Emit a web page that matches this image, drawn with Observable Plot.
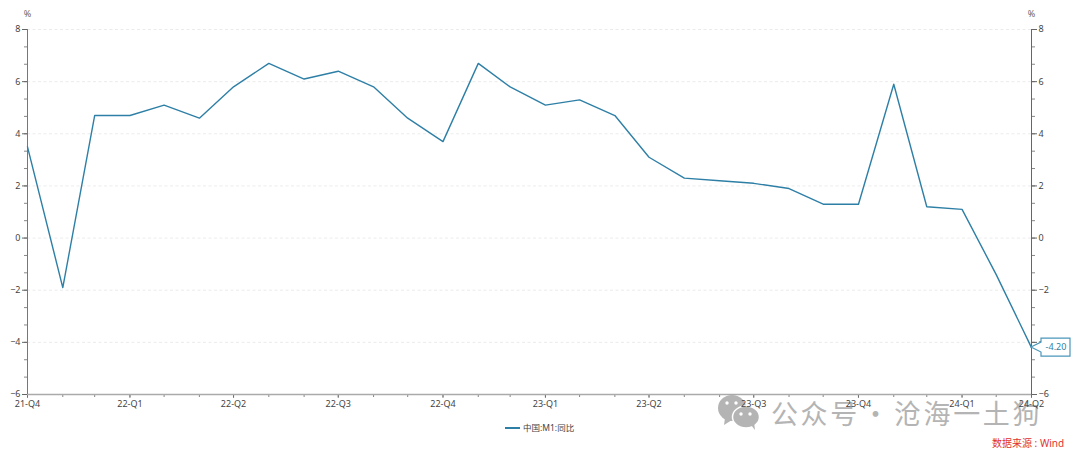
<!DOCTYPE html>
<html><head><meta charset="utf-8">
<script src="https://cdn.jsdelivr.net/npm/d3@7"></script>
<script src="https://cdn.jsdelivr.net/npm/@observablehq/plot@0.6"></script>
<style>
html,body{margin:0;padding:0;background:#fff;width:1080px;height:457px;overflow:hidden;position:relative;font-family:"Noto Sans","Noto Sans CJK SC",sans-serif}
#chart{position:relative;z-index:2}
#chart svg{display:block;background:transparent;font-family:"Noto Sans","Noto Sans CJK SC",sans-serif}
#legend{position:absolute;left:505px;top:421px;font-size:8.5px;line-height:13px;color:#444;display:flex;align-items:center;white-space:nowrap}
#legend i{display:inline-block;width:15px;height:2px;background:#2e7fa6;margin-right:3px}
#source{position:absolute;left:992px;top:436px;font-size:10px;line-height:14px;color:#e03131;white-space:nowrap}
#mark{position:absolute;left:0;top:0;z-index:1;color:#b4b4b4;font-family:"Noto Sans CJK SC",sans-serif;font-size:27px;line-height:38px;white-space:nowrap;pointer-events:none}
#mark svg{position:absolute;left:717px;top:392px;display:block}
#mark span{position:absolute;top:394px;letter-spacing:2.6px}
</style></head><body>
<div id="mark"><svg width="44" height="38" viewBox="0 0 44 38"><ellipse cx="15" cy="16" rx="14" ry="13" fill="#b4b4b4"/><path d="M8 26l-1 7 8-5z" fill="#b4b4b4"/><ellipse cx="29" cy="25" rx="13.5" ry="11" fill="#b4b4b4" stroke="#fff" stroke-width="1.5"/><path d="M34 33l4 5-1-8z" fill="#b4b4b4"/><circle cx="10" cy="11" r="1.7" fill="#fff"/><circle cx="19" cy="11" r="1.7" fill="#fff"/><circle cx="24" cy="22" r="1.7" fill="#fff"/><circle cx="33" cy="22" r="1.7" fill="#fff"/></svg><span style="left:771px">公众号</span><span style="left:862px">·</span><span style="left:894px">沧海一土狗</span></div>
<div id="chart"></div>
<div id="legend"><i></i><span>中国:M1:同比</span></div>
<div id="source">数据来源 : Wind</div>
<script>
const monthEnds = ["2021-12-31","2022-01-31","2022-02-28","2022-03-31","2022-04-30","2022-05-31","2022-06-30","2022-07-31","2022-08-31","2022-09-30","2022-10-31","2022-11-30","2022-12-31","2023-01-31","2023-02-28","2023-03-31","2023-04-30","2023-05-31","2023-06-30","2023-07-31","2023-08-31","2023-09-30","2023-10-31","2023-11-30","2023-12-31","2024-01-31","2024-02-29","2024-03-31","2024-04-30","2024-05-31"];
const m1Yoy = [3.5,-1.9,4.7,4.7,5.1,4.6,5.8,6.7,6.1,6.4,5.8,4.6,3.7,6.7,5.8,5.1,5.3,4.7,3.1,2.3,2.2,2.1,1.9,1.3,1.3,5.9,1.2,1.1,-1.4,-4.2];
const quarterDates = ["2021-12-31","2022-03-31","2022-06-30","2022-09-30","2022-12-31","2023-03-31","2023-06-30","2023-09-30","2023-12-31","2024-03-31","2024-05-31"];
const quarterLabels = ["21-Q4","22-Q1","22-Q2","22-Q3","22-Q4","23-Q1","23-Q2","23-Q3","23-Q4","24-Q1","24-Q2"];
const yTicks = [-6,-4,-2,0,2,4,6,8];
const yMinorTicks = [-6,-5.333,-4.667,-4,-3.333,-2.667,-2,-1.333,-0.667,0,0.667,1.333,2,2.667,3.333,4,4.667,5.333,6,6.667,7.333,8];

const parse = d3.utcParse("%Y-%m-%d");
const rows = monthEnds.map((d,i)=>({date:parse(d),value:m1Yoy[i]}));
const last = rows[rows.length-1];
const qDates = quarterDates.map(parse);
const labelOf = new Map(qDates.map((d,i)=>[+d,quarterLabels[i]]));
const blue = "#2e7fa6", tc = "#444";

// end-of-series callout, anchored through the plot's own scales
function callout(index, scales) {
  const x = scales.x(last.date), y = scales.y(last.value);
  const g = d3.create("svg:g").attr("aria-label","callout");
  g.append("path")
    .attr("d",`M${x},${y}L${x+10},${y-5}V${y-9}H${x+39}V${y+9}H${x+10}V${y+5}Z`)
    .attr("fill","#fff").attr("stroke","#4a96ba").attr("stroke-width",1.2);
  g.append("text").attr("x",x+25).attr("y",y).attr("dy","0.32em")
    .attr("text-anchor","middle").attr("fill",blue).attr("font-size",9)
    .text(last.value.toFixed(2));
  return g.node();
}

document.getElementById("chart").append(Plot.plot({
  width:1080,height:415,
  marginLeft:27,marginRight:49,marginTop:29,marginBottom:21,
  style:{fontSize:"9px",overflow:"visible",background:"transparent"},
  x:{type:"utc",domain:[rows[0].date,last.date]},
  y:{domain:[-6,8]},
  marks:[
    Plot.ruleY(yTicks.filter(d=>d>-6),{stroke:"#e2e2e2",strokeWidth:.7,strokeDasharray:"3,2.5"}),
    Plot.axisX({ticks:rows.map(d=>d.date),tickSize:3,tickFormat:()=>"",stroke:"#666",strokeWidth:.8,label:null}),
    Plot.axisX({ticks:qDates,tickSize:4,tickPadding:2,tickFormat:d=>labelOf.get(+d),color:tc,stroke:"#666",strokeWidth:.8,label:null}),
    Plot.axisY({anchor:"left",ticks:yMinorTicks,tickSize:3,tickFormat:()=>"",stroke:"#888",label:null}),
    Plot.axisY({anchor:"left",ticks:yTicks,tickSize:5,tickPadding:2,color:tc,stroke:"#666",label:null}),
    Plot.axisY({anchor:"right",ticks:yMinorTicks,tickSize:3,tickFormat:()=>"",stroke:"#888",label:null}),
    Plot.axisY({anchor:"right",ticks:yTicks,tickSize:5,tickPadding:2,color:tc,stroke:"#666",label:null}),
    Plot.ruleY([-6],{stroke:"#aaa",strokeWidth:1.5}),
    Plot.ruleX([rows[0].date],{stroke:"#777",strokeWidth:1}),
    Plot.ruleX([last.date],{stroke:"#666",strokeWidth:1}),
    Plot.text([rows[0],last],{x:"date",y:()=>8,text:()=>"%",dy:-15,fill:"#666",fontSize:9}),
    Plot.line(rows,{x:"date",y:"value",stroke:blue,strokeWidth:1.4}),
    callout
  ]
}));
</script>
</body></html>
